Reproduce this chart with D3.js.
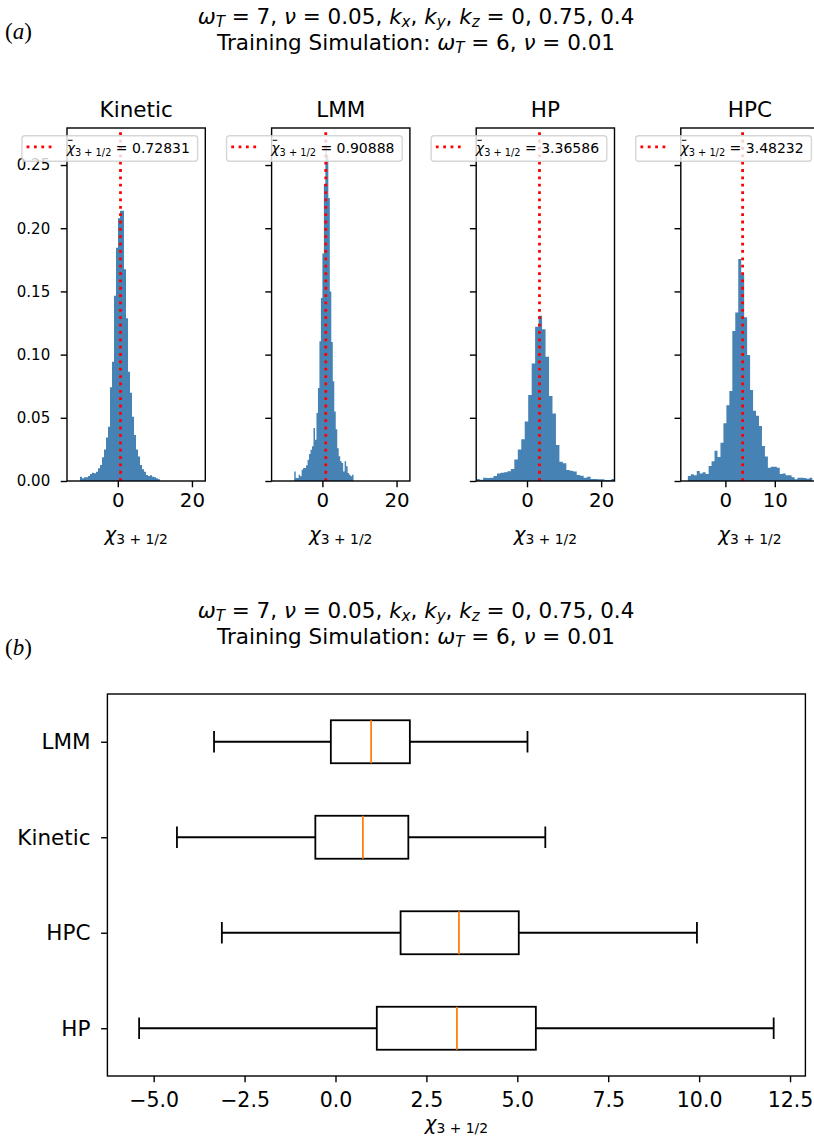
<!DOCTYPE html>
<html>
<head>
<meta charset="utf-8">
<script src="https://cdn.jsdelivr.net/npm/d3@7"></script>
<style>
  body { margin: 0; background: #fff; }
  svg { display: block; font-family: "DejaVu Sans", sans-serif; }
  text { white-space: pre; }
</style>
</head>
<body>
<svg id="fig" width="814" height="1144"></svg>
<script>
// ---------- data ----------
const panelNames = ["Kinetic", "LMM", "HP", "HPC"];

// histogram densities (bin start, bin width, density per bin)
const kineticStart = -10.2, kineticWidth = 0.54;
const kineticDensity = [
  0.0034, 0.0021, 0.0029, 0.0029, 0.0040, 0.0055, 0.0066, 0.0061, 0.0074, 0.0100,
  0.0127, 0.0187, 0.0250, 0.0345, 0.0430, 0.0741, 0.0944, 0.1466, 0.1846, 0.2078,
  0.2139, 0.2139, 0.1675, 0.1287, 0.0865, 0.0699, 0.0509, 0.0364, 0.0250, 0.0193,
  0.0127, 0.0092, 0.0074, 0.0047, 0.0040, 0.0045, 0.0034, 0.0029, 0.0021, 0.0013];

const lmmStart = -7.6, lmmWidth = 0.4;
const lmmDensity = [
  0.0076, 0.0024, 0.0024, 0.0050, 0.0037, 0.0090, 0.0103, 0.0103, 0.0124, 0.0169,
  0.0214, 0.0248, 0.0274, 0.0419, 0.0327, 0.0538, 0.0736, 0.1105, 0.1448, 0.1800,
  0.2350, 0.2660, 0.2580, 0.2240, 0.1500, 0.1100, 0.0790, 0.0550, 0.0410, 0.0260,
  0.0195, 0.0156, 0.0142, 0.0076, 0.0156, 0.0116, 0.0063, 0.0050, 0.0037, 0.0050];

const hpStart = -13.7, hpWidth = 0.935;
const hpDensity = [
  0.0016, 0.0010, 0.0026, 0.0024, 0.0026, 0.0040, 0.0060, 0.0066, 0.0069, 0.0078,
  0.0095, 0.0170, 0.0250, 0.0330, 0.0470, 0.0680, 0.0930, 0.1220, 0.1308, 0.1200,
  0.0984, 0.0672, 0.0535, 0.0285, 0.0153, 0.0140, 0.0087, 0.0082, 0.0075, 0.0047,
  0.0042, 0.0026, 0.0034, 0.0016, 0.0016, 0.0013, 0.0013, 0.0008, 0.0008, 0.0016];

const hpcStart = -7.6, hpcWidth = 0.6;
const hpcDensity = [
  0.0040, 0.0053, 0.0045, 0.0079, 0.0060, 0.0069, 0.0055, 0.0119, 0.0156, 0.0240,
  0.0190, 0.0303, 0.0456, 0.0599, 0.0712, 0.1187, 0.1334, 0.1756, 0.1635, 0.1295,
  0.0997, 0.0720, 0.0556, 0.0517, 0.0435, 0.0277, 0.0193, 0.0105, 0.0113, 0.0113,
  0.0105, 0.0055, 0.0060, 0.0045, 0.0045, 0.0029, 0.0013, 0.0026, 0.0026, 0.0024,
  0.0018, 0.0026];

const meanValues = [0.72831, 0.90888, 3.36586, 3.48232];
const meanLabels = ["0.72831", "0.90888", "3.36586", "3.48232"];

const histXLimits = [[-13.7, 23.6], [-13.7, 23.6], [-13.7, 23.6], [-9.03, 18.97]];
const histXTicks = [[0, 20], [0, 20], [0, 20], [0, 10]];
const histYTicks = [0, 0.05, 0.10, 0.15, 0.20, 0.25];

// box plot summary, positions 1..4 from the bottom
const boxCategories = ["HP", "HPC", "Kinetic", "LMM"];
const whiskerLow  = [-5.40, -3.125, -4.36, -3.34];
const quartile1   = [1.136, 1.79, -0.554, -0.128];
const medians     = [3.34, 3.395, 0.753, 0.98];
const quartile3   = [5.51, 5.04, 2.003, 2.045];
const whiskerHigh = [12.05, 9.94, 5.77, 5.28];
const boxXTicks = [-5, -2.5, 0, 2.5, 5, 7.5, 10, 12.5];

// ---------- helpers ----------
const svg = d3.select("#fig");
const BLUE = "#4682b4", RED = "#ff0000", ORANGE = "#ff7f0e";
const SPINE = 1.4, TICK = 6.3;

// mixed roman / italic / subscript text in one <text>
function addMath(textSel, parts, size) {
  let shift = 0;
  parts.forEach(p => {
    const target = p.sub ? size * 0.16 : 0;
    const ts = textSel.append("tspan")
      .text(p.t)
      .attr("font-size", p.sub ? size * 0.7 : size)
      .attr("dy", target - shift);
    if (p.i) ts.attr("font-style", "italic");
    shift = target;
  });
  return textSel;
}

const chiParts = [{t: "χ", i: true}, {t: "3 + 1/2", sub: true}];
const titleLine1 = [
  {t: "ω", i: true}, {t: "T", i: true, sub: true}, {t: " = 7, "},
  {t: "ν", i: true}, {t: " = 0.05, "},
  {t: "k", i: true}, {t: "x", i: true, sub: true}, {t: ", "},
  {t: "k", i: true}, {t: "y", i: true, sub: true}, {t: ", "},
  {t: "k", i: true}, {t: "z", i: true, sub: true}, {t: " = 0, 0.75, 0.4"}];
const titleLine2 = [
  {t: "Training Simulation: "}, {t: "ω", i: true}, {t: "T", i: true, sub: true},
  {t: " = 6, "}, {t: "ν", i: true}, {t: " = 0.01"}];

function styleAxis(g, fontSize) {
  g.attr("font-size", null).attr("font-family", null);
  g.select(".domain").remove();
  g.selectAll(".tick line").attr("stroke", "#000").attr("stroke-width", SPINE);
  g.selectAll(".tick text").attr("fill", "#000").attr("font-size", fontSize);
}

function suptitle(y1, y2, letter, letterY) {
  addMath(svg.append("text").attr("x", 416).attr("y", y1)
    .attr("text-anchor", "middle").attr("fill", "#000"), titleLine1, 21.5);
  addMath(svg.append("text").attr("x", 416).attr("y", y2)
    .attr("text-anchor", "middle").attr("fill", "#000"), titleLine2, 21.5);
  const t = svg.append("text").attr("x", 5).attr("y", letterY)
    .attr("font-family", "'Liberation Serif', serif").attr("font-size", 23).attr("fill", "#000");
  t.append("tspan").text("(");
  t.append("tspan").text(letter).attr("font-style", "italic");
  t.append("tspan").text(")");
}

// ---------- (a) histograms ----------
suptitle(23.5, 50, "a", 39);

const histSeries = [
  {start: kineticStart, width: kineticWidth, dens: kineticDensity},
  {start: lmmStart, width: lmmWidth, dens: lmmDensity},
  {start: hpStart, width: hpWidth, dens: hpDensity},
  {start: hpcStart, width: hpcWidth, dens: hpcDensity}];

const histTop = 128, histBottom = 481, histW = 138.3, histLeft0 = 67, histStep = 204.6;
const yMax = d3.max(histSeries, s => d3.max(s.dens)) * 1.05;
const yHist = d3.scaleLinear().domain([0, yMax]).range([histBottom, histTop]);

panelNames.forEach((name, i) => {
  const left = histLeft0 + i * histStep, right = left + histW;
  const xs = d3.scaleLinear().domain(histXLimits[i]).range([left, right]);
  const s = histSeries[i];
  const g = svg.append("g");

  const clipId = "clip" + i;
  svg.append("clipPath").attr("id", clipId)
    .append("rect").attr("x", left).attr("y", histTop).attr("width", histW).attr("height", histBottom - histTop);

  // build the bars as one stepped outline so neighbouring bins join without seams
  const bins = s.dens.map((d, k) => ({x0: s.start + k * s.width, x1: s.start + (k + 1) * s.width, d}));
  const pts = [[xs(bins[0].x0), yHist(0)]];
  bins.forEach(b => { pts.push([xs(b.x0), yHist(b.d)]); pts.push([xs(b.x1), yHist(b.d)]); });
  pts.push([xs(bins[bins.length - 1].x1), yHist(0)]);
  g.append("g").attr("clip-path", `url(#${clipId})`)
    .append("path")
    .attr("d", d3.line()(pts) + "Z")
    .attr("fill", BLUE);

  // mean line
  g.append("line")
    .attr("x1", xs(meanValues[i])).attr("x2", xs(meanValues[i]))
    .attr("y1", histBottom).attr("y2", histTop)
    .attr("stroke", RED).attr("stroke-width", 2.78).attr("stroke-dasharray", "2.78 4.58");

  // axes
  const ya = g.append("g").attr("transform", `translate(${left},0)`)
    .call(d3.axisLeft(yHist).tickValues(histYTicks).tickSize(TICK).tickPadding(10.5)
      .tickFormat(i === 0 ? d3.format(".2f") : () => ""));
  styleAxis(ya, 15);

  const xa = g.append("g").attr("transform", `translate(0,${histBottom})`)
    .call(d3.axisBottom(xs).tickValues(histXTicks[i]).tickSize(TICK).tickPadding(5.7).tickFormat(d3.format("d")));
  styleAxis(xa, 19.8);

  g.append("rect").attr("x", left).attr("y", histTop).attr("width", histW).attr("height", histBottom - histTop)
    .attr("fill", "none").attr("stroke", "#000").attr("stroke-width", SPINE);

  // title and axis label
  g.append("text").attr("x", left + histW / 2).attr("y", 117.3).attr("text-anchor", "middle")
    .attr("font-size", 21.5).attr("fill", "#000").text(name);
  addMath(g.append("text").attr("x", left + histW / 2).attr("y", 540.5)
    .attr("text-anchor", "middle").attr("fill", "#000"), chiParts, 19.8);

  // legend
  const lg = g.append("g");
  const box = lg.append("rect");
  const txt = lg.append("text").attr("x", 0).attr("y", 153.3).attr("fill", "#000");
  addMath(txt, [{t: "χ", i: true}, {t: "3 + 1/2", sub: true}, {t: " = " + meanLabels[i]}], 14);
  const tLen = txt.node().getComputedTextLength();
  const boxW = 44.7 + tLen + 7.7;
  const boxRight = right - 7.7, boxLeft = boxRight - boxW;
  const boxTop = histTop + 7.7, boxH = 25.5;
  box.attr("x", boxLeft).attr("y", boxTop).attr("width", boxW).attr("height", boxH)
    .attr("rx", 3).attr("fill", "rgba(255,255,255,0.8)")
    .attr("stroke", "rgba(204,204,204,0.8)").attr("stroke-width", 1.4);
  txt.attr("x", boxLeft + 44.7);
  const ext = txt.node().getExtentOfChar(0);
  lg.append("line")
    .attr("x1", ext.x + ext.width * 0.18).attr("x2", ext.x + ext.width * 0.72)
    .attr("y1", 140.3).attr("y2", 140.3).attr("stroke", "#000").attr("stroke-width", 1);
  lg.append("line")
    .attr("x1", boxLeft + 4.7).attr("x2", boxLeft + 32.5)
    .attr("y1", boxTop + boxH / 2 - 1.5).attr("y2", boxTop + boxH / 2 - 1.5)
    .attr("stroke", RED).attr("stroke-width", 2.78).attr("stroke-dasharray", "2.78 4.58");
});

// ---------- (b) box plot ----------
suptitle(617.5, 644, "b", 655);

const bLeft = 107.4, bRight = 805.4, bTop = 694, bBottom = 1076;
const lo = d3.min(whiskerLow), hi = d3.max(whiskerHigh), pad = (hi - lo) * 0.05;
const xb = d3.scaleLinear().domain([lo - pad, hi + pad]).range([bLeft, bRight]);
const yb = d3.scaleLinear().domain([0.5, 4.5]).range([bBottom, bTop]);
const halfBox = 0.225, halfCap = 0.1125;

const bg = svg.append("g");
const boxes = boxCategories.map((c, k) => ({
  pos: k + 1, lo: whiskerLow[k], q1: quartile1[k], med: medians[k], q3: quartile3[k], hi: whiskerHigh[k]}));

boxes.forEach(b => {
  const yc = yb(b.pos);
  const line = (x1, y1, x2, y2, col) => bg.append("line")
    .attr("x1", x1).attr("y1", y1).attr("x2", x2).attr("y2", y2)
    .attr("stroke", col || "#000").attr("stroke-width", 1.8);
  line(xb(b.lo), yc, xb(b.q1), yc);
  line(xb(b.q3), yc, xb(b.hi), yc);
  line(xb(b.lo), yb(b.pos - halfCap), xb(b.lo), yb(b.pos + halfCap));
  line(xb(b.hi), yb(b.pos - halfCap), xb(b.hi), yb(b.pos + halfCap));
  bg.append("rect").attr("x", xb(b.q1)).attr("y", yb(b.pos + halfBox))
    .attr("width", xb(b.q3) - xb(b.q1)).attr("height", yb(b.pos - halfBox) - yb(b.pos + halfBox))
    .attr("fill", "none").attr("stroke", "#000").attr("stroke-width", 1.8);
  line(xb(b.med), yb(b.pos + halfBox), xb(b.med), yb(b.pos - halfBox), ORANGE);
});

const bxa = bg.append("g").attr("transform", `translate(0,${bBottom})`)
  .call(d3.axisBottom(xb).tickValues(boxXTicks).tickSize(TICK).tickPadding(10).tickFormat(d3.format(".1f")));
styleAxis(bxa, 20.5);

const bya = bg.append("g").attr("transform", `translate(${bLeft},0)`)
  .call(d3.axisLeft(yb).tickValues([1, 2, 3, 4]).tickSize(TICK).tickPadding(10.6)
    .tickFormat(d => boxCategories[d - 1]));
styleAxis(bya, 21.5);

bg.append("rect").attr("x", bLeft).attr("y", bTop).attr("width", bRight - bLeft).attr("height", bBottom - bTop)
  .attr("fill", "none").attr("stroke", "#000").attr("stroke-width", SPINE);

addMath(bg.append("text").attr("x", (bLeft + bRight) / 2).attr("y", 1130)
  .attr("text-anchor", "middle").attr("fill", "#000"), chiParts, 19.8);
</script>
</body>
</html>
